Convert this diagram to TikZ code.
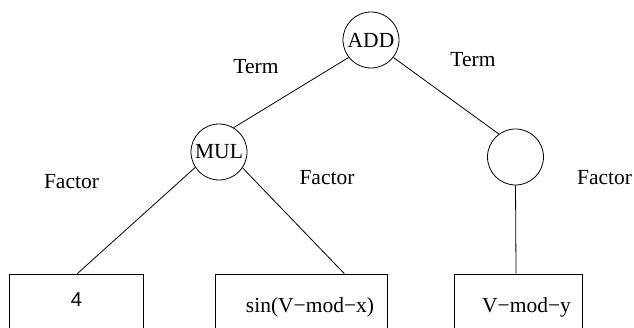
\documentclass[tikz,border=0pt]{standalone}
\usepackage{fontspec}
\setmainfont{Liberation Serif}
\newfontfamily\digitfont{Liberation Sans}
\usetikzlibrary{calc}
\tikzset{
  opnode/.style={circle,draw,line width=0.8pt,minimum size=56pt,inner sep=0pt,font=\fontsize{21.5}{24}\selectfont},
  leafbox/.style={rectangle,draw,line width=0.8pt,inner sep=0pt,minimum height=66pt},
  lbl/.style={anchor=base,inner sep=0pt,font=\fontsize{21.5}{24}\selectfont},
  edge/.style={line width=0.8pt}
}
\begin{document}
\begin{tikzpicture}[x=1pt,y=1pt]
\path[use as bounding box,clip] (0,0) rectangle (634,328);
% operator nodes
\node[opnode] (add) at (371,288) {ADD};
\node[opnode] (mul) at (219,176) {MUL};
\node[opnode] (rc) at (515.5,171) {};
% leaf boxes
\node[leafbox,minimum width=134pt] (b1) at (76,21) {};
\node[leafbox,minimum width=172.3pt] (b2) at (301.7,21) {};
\node[leafbox,minimum width=128.2pt] (b3) at (518.6,21) {};
% box texts
\node[anchor=base,inner sep=0pt,font=\digitfont\fontsize{20}{22}\selectfont] (t1) at (76.5,21.3) {4};
\node[lbl] (t2) at (310,15) {sin(V−mod−x)};
\node[lbl] (t3) at (526.5,15) {V−mod−y};
% edge labels
\node[lbl] (term1) at (256,254) {Term};
\node[lbl] (term2) at (473,261) {Term};
\node[lbl] (fac1) at (71.5,139) {Factor};
\node[lbl] (fac2) at (327,143) {Factor};
\node[lbl] (fac3) at (604.5,143) {Factor};
% connectors
\draw[edge] (add.218) -- (mul.59);
\draw[edge] (add.322) -- (rc.126);
\draw[edge] (mul.213) -- ($(b1.north west)!0.51!(b1.north east)$);
\draw[edge] (mul.326) -- ($(b2.north west)!0.746!(b2.north east)$);
\draw[edge] (rc.south) -- ($(b3.north west)!0.48!(b3.north east)$);
\end{tikzpicture}
\end{document}
